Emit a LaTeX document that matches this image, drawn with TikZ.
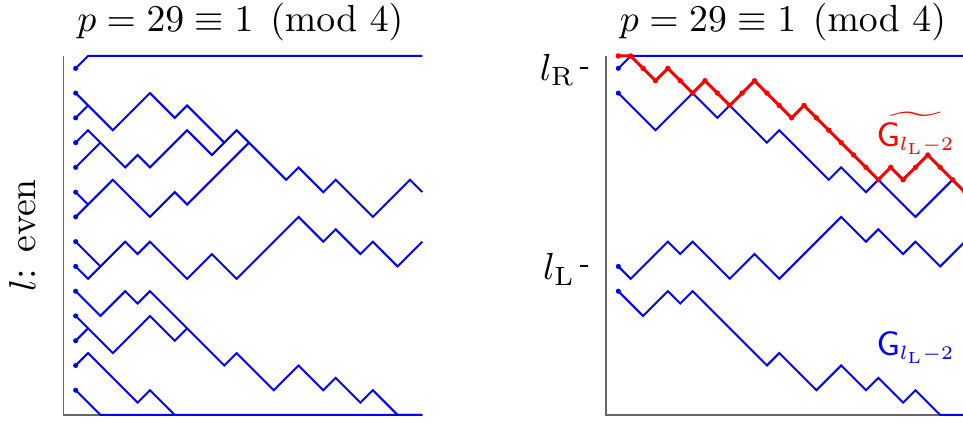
\documentclass[tikz,border=0pt]{standalone}
\usepackage{amsmath}
\usepackage{graphicx}
\newcommand{\Gsub}{\mathsf{G}_{\scalebox{0.85}{$\scriptstyle l_{\mathrm{L}}-2$}}}
\begin{document}
\begin{tikzpicture}[x=3.2807pt,y=3.2807pt,
  walk/.style={blue, line width=0.53pt, line join=miter},
  rwalk/.style={red, line width=0.8pt, line join=round},
  axisline/.style={black!60, line width=0.42pt},
  bdot/.style={blue},
  rdot/.style={red},
  tickline/.style={black, line width=0.5pt},
  ttl/.style={anchor=base, inner sep=0pt}]
\useasboundingbox (-5.113,-0.646) rectangle (72.67,33.52);
% ---------------- left panel ----------------
\begin{scope}
\draw[axisline] (0,29) -- (0,0) -- (29,0);
\node[ttl] (titleL) at (14.3,30.95) {$p=29\equiv 1 \pmod{4}$};
\node[rotate=90, inner sep=0pt] (lev) at (-3.3,14.5) {$l$: even};
\draw[walk] (1,28)--(2,29)--(29,29);
\draw[walk] (1,26)--(4,23)--(7,26)--(9,24)--(10,25)--(13,22);
\draw[walk] (1,24)--(2,25);
\draw[walk] (1,22)--(2,23)--(5,20)--(6,21)--(7,20)--(10,23)--(12,21)--(14,23)--(18,19)--(19,20)--(21,18)--(22,19)--(25,16)--(28,19)--(29,18);
\draw[walk] (1,20)--(3,22);
\draw[walk] (1,18)--(2,17);
\draw[walk] (1,16)--(4,19)--(7,16)--(9,18)--(10,17)--(15,22);
\draw[walk] (1,14)--(3,12)--(5,14)--(6,13)--(7,14)--(10,11)--(12,13)--(14,11)--(19,16)--(21,14)--(22,15)--(24,13)--(25,14)--(27,12)--(29,14);
\draw[walk] (1,12)--(2,11)--(3,12);
\draw[walk] (1,10)--(3,8)--(5,10)--(6,9)--(7,10)--(13,4)--(14,5)--(17,2)--(19,4)--(21,2)--(22,3)--(24,1)--(25,2)--(27,0)--(29,0);
\draw[walk] (1,8)--(4,5)--(7,8)--(9,6)--(10,7);
\draw[walk] (1,6)--(2,7);
\draw[walk] (1,4)--(2,5)--(6,1)--(7,2)--(9,0);
\draw[walk] (1,2)--(3,0)--(29,0);
\foreach \l in {2,4,...,28} \fill[bdot] (1,\l) circle[radius=0.68pt];
\end{scope}
% ---------------- right panel ----------------
\begin{scope}[shift={(43.83,0)}]
\draw[axisline] (0,29) -- (0,0) -- (29,0);
\node[ttl] (titleR) at (14.3,30.95) {$p=29\equiv 1 \pmod{4}$};
\draw[tickline] (-2.1,28) -- (-1.45,28);
\draw[tickline] (-2.1,12) -- (-1.45,12);
\node[anchor=base east, inner sep=0pt] (lR) at (-2.45,27.05) {$l_{\mathrm{R}}$};
\node[anchor=base east, inner sep=0pt] (lL) at (-2.45,10.95) {$l_{\mathrm{L}}$};
\draw[walk] (1,28)--(2,29)--(29,29);
\draw[walk] (1,26)--(4,23)--(7,26)--(9,24)--(10,25)--(13,22)--(14,23)--(18,19)--(19,20)--(21,18)--(22,19)--(25,16)--(28,19)--(29,18);
\draw[walk] (1,12)--(2,11)--(5,14)--(6,13)--(7,14)--(10,11)--(12,13)--(14,11)--(19,16)--(21,14)--(22,15)--(24,13)--(25,14)--(27,12)--(29,14);
\draw[walk] (1,10)--(3,8)--(5,10)--(6,9)--(7,10)--(13,4)--(14,5)--(17,2)--(19,4)--(21,2)--(22,3)--(24,1)--(25,2)--(27,0)--(29,0);
\foreach \l in {10,12,26,28} \fill[bdot] (1,\l) circle[radius=0.68pt];
\draw[rwalk] (1,29)--(2,29)--(3,28)--(4,27)--(5,28)--(6,27)--(7,26)--(8,27)--(9,26)--(10,25)--(11,26)--(12,27)--(13,26)--(14,25)--(15,24)--(16,25)--(17,24)--(18,23)--(19,22)--(20,21)--(21,20)--(22,19)--(23,20)--(24,19)--(25,20)--(26,21)--(27,20)--(28,19)--(29,18);
\foreach \x/\y in {1/29,2/29,3/28,4/27,5/28,6/27,7/26,8/27,9/26,10/25,11/26,12/27,13/26,14/25,15/24,16/25,17/24,18/23,19/22,20/21,21/20,22/19,23/20,24/19,25/20,26/21,27/20,28/19,29/18}
  \fill[rdot] (\x,\y) circle[radius=0.72pt];
\node[anchor=base west, inner sep=0pt, text=red, font=\small] (Gt) at (21.8,21.7) {$\widetilde{\Gsub}$};
\node[anchor=base west, inner sep=0pt, text=blue, font=\small] (G) at (21.8,4.77) {$\Gsub$};
\end{scope}
\end{tikzpicture}
\end{document}
